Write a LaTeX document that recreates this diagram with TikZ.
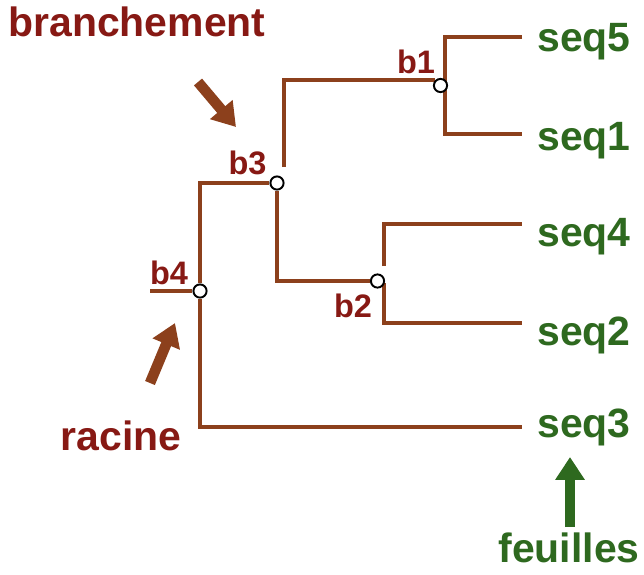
\documentclass[tikz,border=0pt]{standalone}
\usepackage{fontspec}
\setmainfont{Liberation Sans}
\usetikzlibrary{arrows.meta,backgrounds}
\definecolor{rustbrown}{rgb}{0.55, 0.25, 0.11}
\definecolor{bloodred}{rgb}{0.53, 0.10, 0.08}
\definecolor{leafgreen}{rgb}{0.18, 0.41, 0.12}

\begin{document}
\begin{tikzpicture}[x=0.02cm, y=-0.02cm,
    branch/.style={rustbrown, line width=2.6pt},
    knot/.style={circle, draw=black, fill=white, line width=1.1pt, minimum size=7.5pt, inner sep=0pt},
    blabel/.style={bloodred, font=\fontsize{18.5}{18.5}\selectfont\bfseries},
    leaf/.style={leafgreen, anchor=west, inner xsep=8.5pt, inner ysep=0pt, font=\fontsize{23.3}{23.3}\selectfont\bfseries},
    caption/.style={font=\fontsize{23.3}{23.3}\selectfont\bfseries},
    fatarrow/.style={line width=6pt, -{Triangle[length=13pt, width=16pt]}}]

      \useasboundingbox (0,0) rectangle (644,574);

      % feuilles
      \node[leaf] (seq5) at (522,42) {seq5};
      \node[leaf] (seq1) at (522,141) {seq1};
      \node[leaf] (seq4) at (522,237) {seq4};
      \node[leaf] (seq2) at (522,335) {seq2};
      \node[leaf] (seq3) at (522,427) {seq3};

      % branchements
      \node[knot] (b1) at (440.5,85.5) {};
      \node[knot] (b2) at (377.5,281) {};
      \node[knot] (b3) at (277,183) {};
      \node[knot] (b4) at (200,291) {};

      \coordinate (root) at (150,291);
      \coordinate (b3up) at (284,167);
      \coordinate (b1top) at (445,37);
      \coordinate (b1bot) at (445,134);
      \coordinate (b2up) at (384,266);
      \coordinate (b2top) at (384,224);
      \coordinate (b2down) at (384,283);
      \coordinate (b2bot) at (384,323);

      \begin{scope}[on background layer]
        \draw[branch] (root) -- (b4);
        \draw[branch] (b4) |- (b3);
        \draw[branch] (b4) |- (seq3.west);
        \draw[branch] (b3) |- (b2);
        \draw[branch] (b3up) |- (b1.north west);
        \draw[branch] (seq5.west |- b1top) -- (b1top) -- (b1bot) -- (seq1.west |- b1bot);
        \draw[branch] (b2up) -- (b2top) -- (seq4.west |- b2top);
        \draw[branch] (b2down) -- (b2bot) -- (seq2.west |- b2bot);
      \end{scope}

      \node[blabel] (lb1) at (416,62) {b1};
      \node[blabel] (lb2) at (353,306) {b2};
      \node[blabel] (lb3) at (247.5,162.5) {b3};
      \node[blabel] (lb4) at (169,272.5) {b4};

      % legendes
      \node[caption, bloodred] (branchement) at (137,22) {branchement};
      \node[caption, bloodred] (racine) at (121,435.5) {racine};
      \node[caption, leafgreen] (feuilles) at (569,547.5) {feuilles};

      \coordinate (brtail) at (198,82);
      \coordinate (brtip) at (236,127);
      \coordinate (ratail) at (150,383);
      \coordinate (ratip) at (175,323);
      \coordinate (fetail) at (570,527);
      \coordinate (fetip) at (570,457);

      \draw[fatarrow, rustbrown] (brtail) -- (brtip);
      \draw[fatarrow, rustbrown] (ratail) -- (ratip);
      \draw[fatarrow, leafgreen] (fetail) -- (fetip);
    \end{tikzpicture}
\end{document}
